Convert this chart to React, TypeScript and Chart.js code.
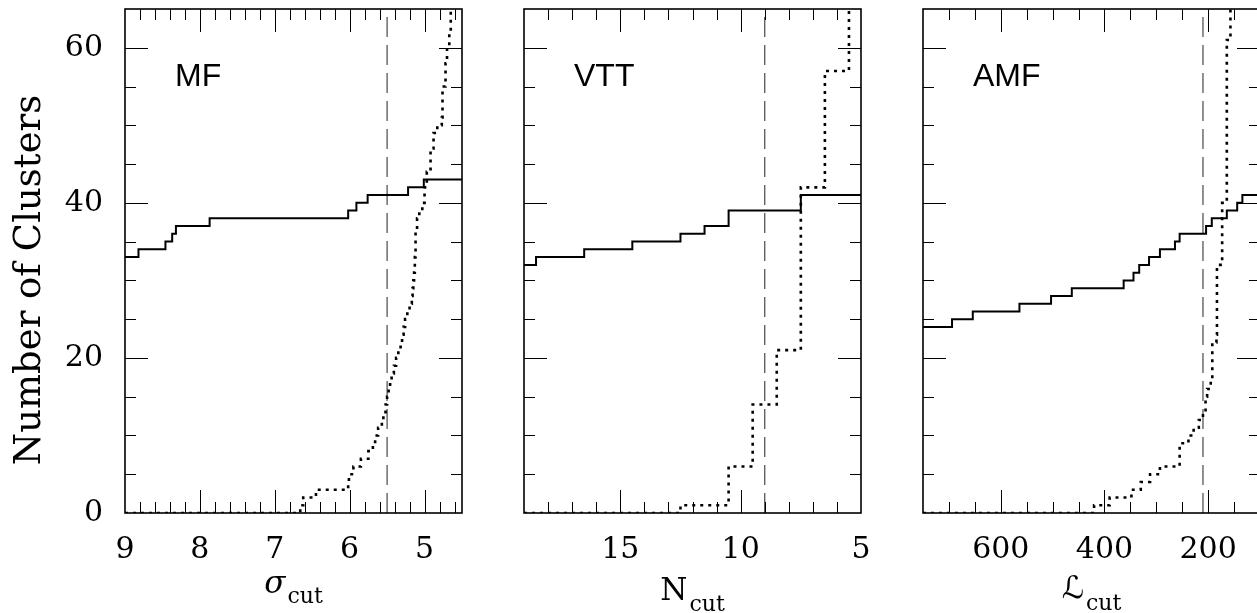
import React, { useEffect, useRef } from "react";
import { Chart, registerables } from "chart.js";

Chart.register(...registerables);

const SERIF = '"DejaVu Serif", "DejaVu Sans", serif';
const SANS = '"Liberation Sans", Arial, sans-serif';

// ---- shared y axis ----
const Y_MIN = 0;
const Y_MAX = 65;
const Y_TICK_LABELS = [0, 20, 40, 60];
const Y_MINOR_STEP = 5;
const Y_MAJOR_STEP = 20;
const Y_TITLE = "Number of Clusters";

// ---- MF panel (sigma_cut) ----
const MF_X_RANGE = [4.5, 9];
const MF_X_TICK_LABELS = [9, 8, 7, 6, 5];
const MF_SOLID_X = [9, 8.82, 8.46, 8.37, 8.32, 7.87, 6.02, 5.91, 5.76, 5.22, 5.01, 4.5];
const MF_SOLID_Y = [33, 34, 35, 36, 37, 38, 39, 40, 41, 42, 43, 43];
const MF_DOT_X = [9, 6.66, 6.62, 6.45, 6.02, 6.01, 5.95, 5.85, 5.75, 5.69, 5.66, 5.62, 5.57, 5.55, 5.52, 5.5, 5.48, 5.46, 5.44, 5.41, 5.38, 5.35, 5.32, 5.3, 5.28, 5.26, 5.23, 5.2, 5.17, 5.16, 5.15, 5.14, 5.13, 5.12, 5.1, 5.07, 5.03, 5.0, 4.97, 4.92, 4.88, 4.83, 4.77, 4.76, 4.72, 4.7, 4.67, 4.65, 4.5];
const MF_DOT_Y = [0, 1, 2, 3, 4, 5, 6, 7, 8, 9, 10, 11, 12, 13, 14, 15, 16, 17, 18, 19, 20, 21, 22, 23, 24, 25, 26, 27, 28, 29, 30, 31, 33, 36, 38, 39, 40, 42, 44, 47, 49, 50, 51, 55, 58, 60, 62, 66, 66];
const MF_CUT = 5.5;

// ---- VTT panel (N_cut) ----
const VTT_X_RANGE = [5, 19];
const VTT_X_TICK_LABELS = [15, 10, 5];
const VTT_SOLID_X = [19, 18.5, 16.5, 14.5, 12.5, 11.5, 10.5, 7.5, 5];
const VTT_SOLID_Y = [32, 33, 34, 35, 36, 37, 39, 41, 41];
const VTT_DOT_X = [19, 12.5, 10.5, 9.5, 8.5, 7.5, 6.5, 5.5, 5];
const VTT_DOT_Y = [0, 1, 6, 14, 21, 42, 57, 70, 70];
const VTT_CUT = 9;

// ---- AMF panel (L_cut) ----
const AMF_X_RANGE = [100, 750];
const AMF_X_TICK_LABELS = [600, 400, 200];
const AMF_SOLID_X = [750, 694, 654, 564, 503, 463, 363, 344, 333, 314, 293, 264, 255, 204, 193, 164, 144, 134, 100];
const AMF_SOLID_Y = [24, 25, 26, 27, 28, 29, 30, 31, 32, 33, 34, 35, 36, 37, 38, 39, 40, 41, 41];
const AMF_DOT_X = [750, 420, 390, 348, 330, 312, 293, 255, 238, 228, 218, 210, 205, 202, 195, 192, 184, 183, 173, 164, 157, 100];
const AMF_DOT_Y = [0, 1, 2, 3, 4, 5, 6, 9, 10, 11, 12, 13, 15, 16, 17, 22, 23, 32, 40, 61, 66, 66];
const AMF_CUT = 210;

type Spec = {
  label: string;
  xRange: number[];
  xTicks: number[];
  minorStep: number;
  majorStep: number;
  solidX: number[];
  solidY: number[];
  dotX: number[];
  dotY: number[];
  cut: number;
  titleMain: string;
  titleFont: string;
  mainBase: number;
  subBase: number;
  canvasLeft: number;
  canvasWidth: number;
  yWidth: number;
  padRight: number;
  showY: boolean;
};

const PANELS: Spec[] = [
  {
    label: "MF", xRange: MF_X_RANGE, xTicks: MF_X_TICK_LABELS, minorStep: 0.2, majorStep: 1,
    solidX: MF_SOLID_X, solidY: MF_SOLID_Y, dotX: MF_DOT_X, dotY: MF_DOT_Y, cut: MF_CUT,
    titleMain: "σ", titleFont: `italic 31px ${SERIF}`, mainBase: 593, subBase: 603,
    canvasLeft: 0, canvasWidth: 470, yWidth: 125, padRight: 8, showY: true,
  },
  {
    label: "VTT", xRange: VTT_X_RANGE, xTicks: VTT_X_TICK_LABELS, minorStep: 1, majorStep: 5,
    solidX: VTT_SOLID_X, solidY: VTT_SOLID_Y, dotX: VTT_DOT_X, dotY: VTT_DOT_Y, cut: VTT_CUT,
    titleMain: "N", titleFont: `31px ${SERIF}`, mainBase: 600, subBase: 611,
    canvasLeft: 480, canvasWidth: 390, yWidth: 44, padRight: 9, showY: false,
  },
  {
    label: "AMF", xRange: AMF_X_RANGE, xTicks: AMF_X_TICK_LABELS, minorStep: 50, majorStep: 200,
    solidX: AMF_SOLID_X, solidY: AMF_SOLID_Y, dotX: AMF_DOT_X, dotY: AMF_DOT_Y, cut: AMF_CUT,
    titleMain: "ℒ", titleFont: `italic 31px ${SERIF}`, mainBase: 598, subBase: 610,
    canvasLeft: 880, canvasWidth: 390, yWidth: 43, padRight: 10, showY: false,
  },
];

function zip(xs: number[], ys: number[]) {
  return xs.map((x, i) => ({ x, y: ys[i] }));
}

function isMultiple(v: number, step: number) {
  const r = v / step;
  return Math.abs(r - Math.round(r)) < 1e-6;
}

function Panel({ spec }: { spec: Spec }) {
  const ref = useRef<HTMLCanvasElement | null>(null);

  useEffect(() => {
    if (!ref.current) return;
    const decor = {
      id: "decor",
      afterDatasetsDraw(chart: any) {
        const { ctx, chartArea } = chart;
        const { left, right, top, bottom } = chartArea;
        const xs = chart.scales.x;
        const ys = chart.scales.y;
        ctx.save();
        ctx.strokeStyle = "#000";
        ctx.lineWidth = 1;
        ctx.beginPath();
        for (let v = Y_MIN + Y_MINOR_STEP; v < Y_MAX; v += Y_MINOR_STEP) {
          const py = Math.round(ys.getPixelForValue(v)) + 0.5;
          const len = isMultiple(v, Y_MAJOR_STEP) ? 23 : 11;
          ctx.moveTo(left, py);
          ctx.lineTo(left + len, py);
          ctx.moveTo(right, py);
          ctx.lineTo(right - len, py);
        }
        const [xmin, xmax] = spec.xRange;
        const n0 = Math.ceil(xmin / spec.minorStep - 1e-6);
        const n1 = Math.floor(xmax / spec.minorStep + 1e-6);
        for (let k = n0; k <= n1; k++) {
          const v = k * spec.minorStep;
          if (Math.abs(v - xmin) < 1e-6 || Math.abs(v - xmax) < 1e-6) continue;
          const px = Math.round(xs.getPixelForValue(v)) + 0.5;
          const len = isMultiple(v, spec.majorStep) ? 23 : 11;
          ctx.moveTo(px, top);
          ctx.lineTo(px, top + len);
          ctx.moveTo(px, bottom);
          ctx.lineTo(px, bottom - len);
        }
        ctx.stroke();
        ctx.lineWidth = 1.6;
        ctx.strokeRect(left, top, right - left, bottom - top);

        ctx.fillStyle = "#000";
        ctx.textAlign = "left";
        ctx.textBaseline = "alphabetic";
        ctx.font = `32px ${SANS}`;
        ctx.fillText(spec.label, left + 50, 86);

        // x-axis title with subscript
        ctx.font = spec.titleFont;
        const w1 = ctx.measureText(spec.titleMain).width;
        const subFont = `22px ${SERIF}`;
        ctx.font = subFont;
        const w2 = ctx.measureText("cut").width;
        const gap = 2;
        const cx = (left + right) / 2;
        const x0 = cx - (w1 + gap + w2) / 2;
        ctx.font = spec.titleFont;
        ctx.fillText(spec.titleMain, x0, spec.mainBase);
        ctx.font = subFont;
        ctx.fillText("cut", x0 + w1 + gap, spec.subBase);

        if (spec.showY) {
          ctx.save();
          ctx.translate(40, 280);
          ctx.rotate(-Math.PI / 2);
          ctx.textAlign = "center";
          ctx.font = `37px ${SERIF}`;
          ctx.fillText(Y_TITLE, 0, 0);
          ctx.restore();
        }
        ctx.restore();
      },
    };

    const chart = new Chart(ref.current, {
      type: "line",
      data: {
        datasets: [
          {
            data: zip(spec.solidX, spec.solidY),
            stepped: "before",
            borderColor: "#000",
            borderWidth: 2,
            pointRadius: 0,
            fill: false,
          },
          {
            data: zip(spec.dotX, spec.dotY),
            stepped: "before",
            borderColor: "#000",
            borderWidth: 2.6,
            borderDash: [3, 5],
            pointRadius: 0,
            fill: false,
          },
          {
            data: [
              { x: spec.cut, y: Y_MIN },
              { x: spec.cut, y: Y_MAX },
            ],
            borderColor: "#555",
            borderWidth: 1.3,
            borderDash: [20, 8],
            pointRadius: 0,
            fill: false,
          },
        ],
      } as any,
      options: {
        animation: false,
        responsive: false,
        devicePixelRatio: 1,
        layout: { padding: { left: 0, right: spec.padRight, top: 9, bottom: 0 } },
        plugins: { legend: { display: false }, tooltip: { enabled: false } },
        scales: {
          x: {
            type: "linear",
            reverse: true,
            min: spec.xRange[0],
            max: spec.xRange[1],
            grid: { display: false },
            border: { display: false },
            afterBuildTicks: (s: any) => {
              s.ticks = spec.xTicks.map((v) => ({ value: v }));
            },
            afterFit: (s: any) => {
              s.height = 100;
              s.paddingLeft = 0;
              s.paddingRight = 0;
            },
            ticks: {
              autoSkip: false,
              maxRotation: 0,
              minRotation: 0,
              padding: 11,
              color: "#000",
              font: { family: SERIF, size: 30 },
              callback: (v: any) => String(v),
            },
          },
          y: {
            type: "linear",
            min: Y_MIN,
            max: Y_MAX,
            grid: { display: false },
            border: { display: false },
            afterBuildTicks: (s: any) => {
              s.ticks = Y_TICK_LABELS.map((v) => ({ value: v }));
            },
            afterFit: (s: any) => {
              s.width = spec.yWidth;
              s.paddingTop = 0;
              s.paddingBottom = 0;
            },
            ticks: {
              display: spec.showY,
              padding: 14,
              color: "#000",
              font: { family: SERIF, size: 30 },
              callback: (v: any) => String(v),
            },
          },
        },
      } as any,
      plugins: [decor],
    });
    return () => chart.destroy();
  }, [spec]);

  return (
    <canvas
      ref={ref}
      width={spec.canvasWidth}
      height={613}
      style={{
        position: "absolute",
        left: spec.canvasLeft,
        top: 0,
        width: spec.canvasWidth,
        height: 613,
      }}
    />
  );
}

export default function App() {
  return (
    <div
      style={{
        position: "fixed",
        left: 0,
        top: 0,
        width: 1257,
        height: 613,
        overflow: "hidden",
        background: "#fff",
      }}
    >
      {PANELS.map((p) => (
        <Panel key={p.label} spec={p} />
      ))}
    </div>
  );
}
